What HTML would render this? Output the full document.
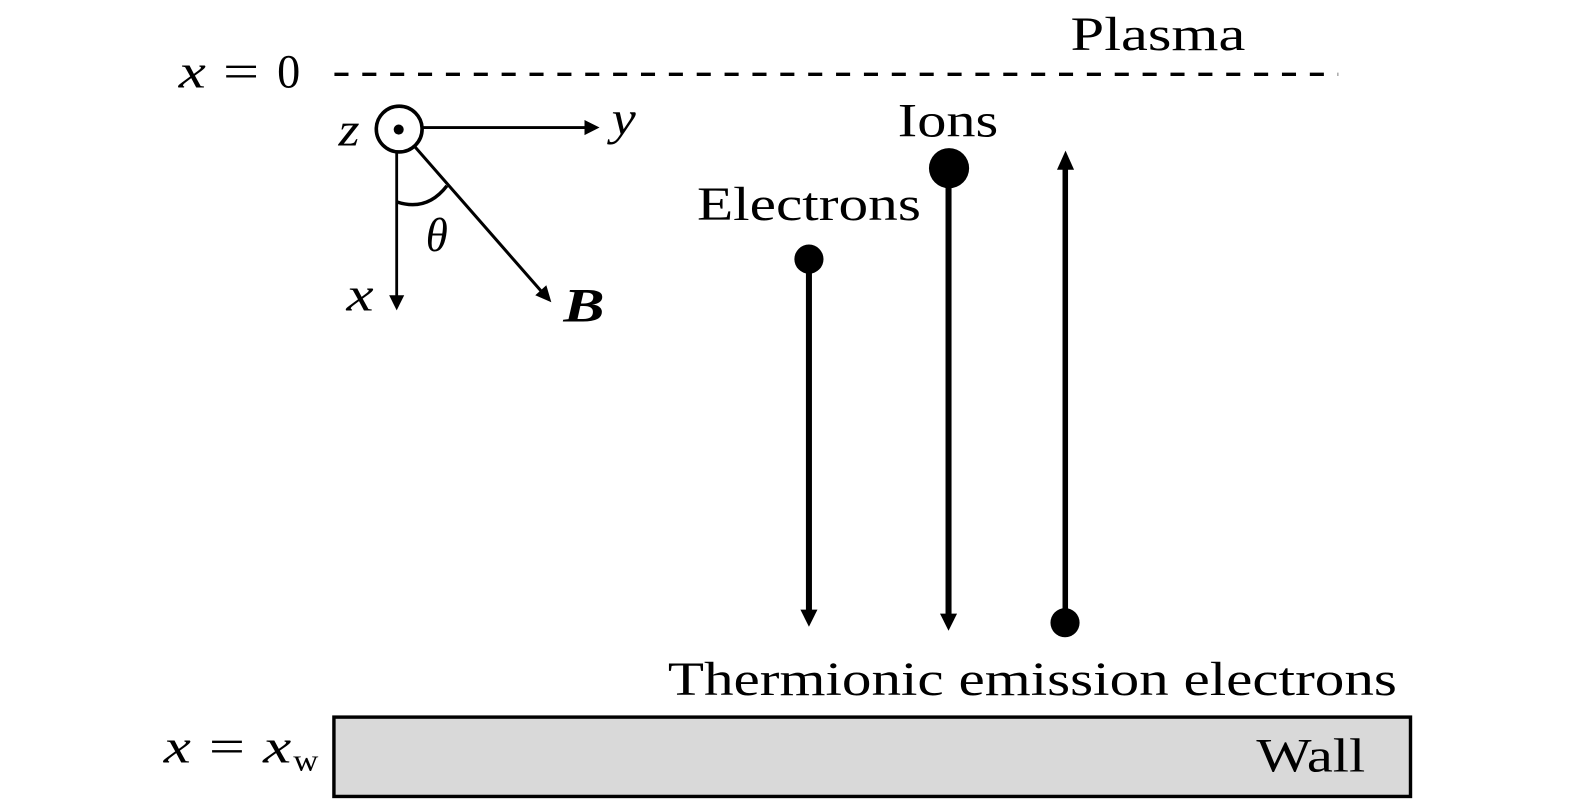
<!DOCTYPE html>
<html><head><meta charset="utf-8"><style>
html,body{margin:0;padding:0;background:#fff;width:1575px;height:807px;overflow:hidden}
svg{display:block}
text{font-family:"Liberation Serif",serif;fill:#000;font-size:47px}
.i{font-style:italic}
</style></head><body>
<svg width="1575" height="807" viewBox="0 0 1568.3 803.5" preserveAspectRatio="none" xmlns="http://www.w3.org/2000/svg">
<rect x="332.5" y="714" width="1072" height="79" fill="#d9d9d9" stroke="#000" stroke-width="3.400"/>
<line x1="333" y1="74" x2="1332.500" y2="74" stroke="#000" stroke-width="3.400" stroke-dasharray="14 13.75"/>
<circle cx="397.500" cy="128.500" r="22.800" fill="#fff" stroke="#000" stroke-width="3.600"/>
<circle cx="397" cy="129" r="5" fill="#000"/>
<line x1="421" y1="127" x2="585" y2="127" stroke="#000" stroke-width="2.800"/>
<polygon points="597,127 582,119.500 582,134.500" fill="#000"/>
<line x1="395" y1="152" x2="395" y2="296" stroke="#000" stroke-width="2.800"/>
<polygon points="395,309 387.500,294 402.500,294" fill="#000"/>
<line x1="413" y1="146" x2="539" y2="290" stroke="#000" stroke-width="3"/>
<polygon points="549,301 533,294 544,284" fill="#000"/>
<path d="M395 201 Q425 211 445 185" fill="none" stroke="#000" stroke-width="3.400"/>
<circle cx="805.500" cy="258" r="14.500" fill="#000"/>
<rect x="802.500" y="260" width="6" height="350" fill="#000"/>
<polygon points="805.500,624 797,607 814,607" fill="#000"/>
<circle cx="945" cy="167.500" r="20" fill="#000"/>
<rect x="941.500" y="170" width="6" height="444" fill="#000"/>
<polygon points="944.500,628 936,611 953,611" fill="#000"/>
<circle cx="1060.500" cy="620" r="14.500" fill="#000"/>
<rect x="1058" y="165" width="5.500" height="445" fill="#000"/>
<polygon points="1061,150 1052.500,169 1069.500,169" fill="#000"/>
<text x="1066" y="50" textLength="174" lengthAdjust="spacingAndGlyphs">Plasma</text>
<text x="894" y="136" textLength="100" lengthAdjust="spacingAndGlyphs">Ions</text>
<text x="694" y="219" textLength="223" lengthAdjust="spacingAndGlyphs">Electrons</text>
<text x="665" y="692" textLength="726" lengthAdjust="spacingAndGlyphs">Thermionic emission electrons</text>
<text x="1251" y="768" textLength="108.500" lengthAdjust="spacingAndGlyphs">Wall</text>
<text class="i" x="178" y="87" textLength="27" lengthAdjust="spacingAndGlyphs">x</text>
<text x="222" y="87" textLength="36" lengthAdjust="spacingAndGlyphs">=</text>
<text x="276" y="87" textLength="23" lengthAdjust="spacingAndGlyphs">0</text>
<text class="i" x="337" y="145" textLength="21" lengthAdjust="spacingAndGlyphs">z</text>
<text class="i" x="609" y="134" textLength="24" lengthAdjust="spacingAndGlyphs">y</text>
<text class="i" x="345" y="309" textLength="27" lengthAdjust="spacingAndGlyphs">x</text>
<text class="i" x="424" y="250" textLength="22" lengthAdjust="spacingAndGlyphs">θ</text>
<text class="i" x="561" y="320" textLength="41" lengthAdjust="spacingAndGlyphs" font-weight="bold">B</text>
<text class="i" x="163" y="759" textLength="27" lengthAdjust="spacingAndGlyphs">x</text>
<text x="208" y="759" textLength="36" lengthAdjust="spacingAndGlyphs">=</text>
<text class="i" x="262" y="759" textLength="28" lengthAdjust="spacingAndGlyphs">x</text>
<text x="292" y="767" textLength="25" lengthAdjust="spacingAndGlyphs" style="font-size:30px">w</text>
</svg>
</body></html>
